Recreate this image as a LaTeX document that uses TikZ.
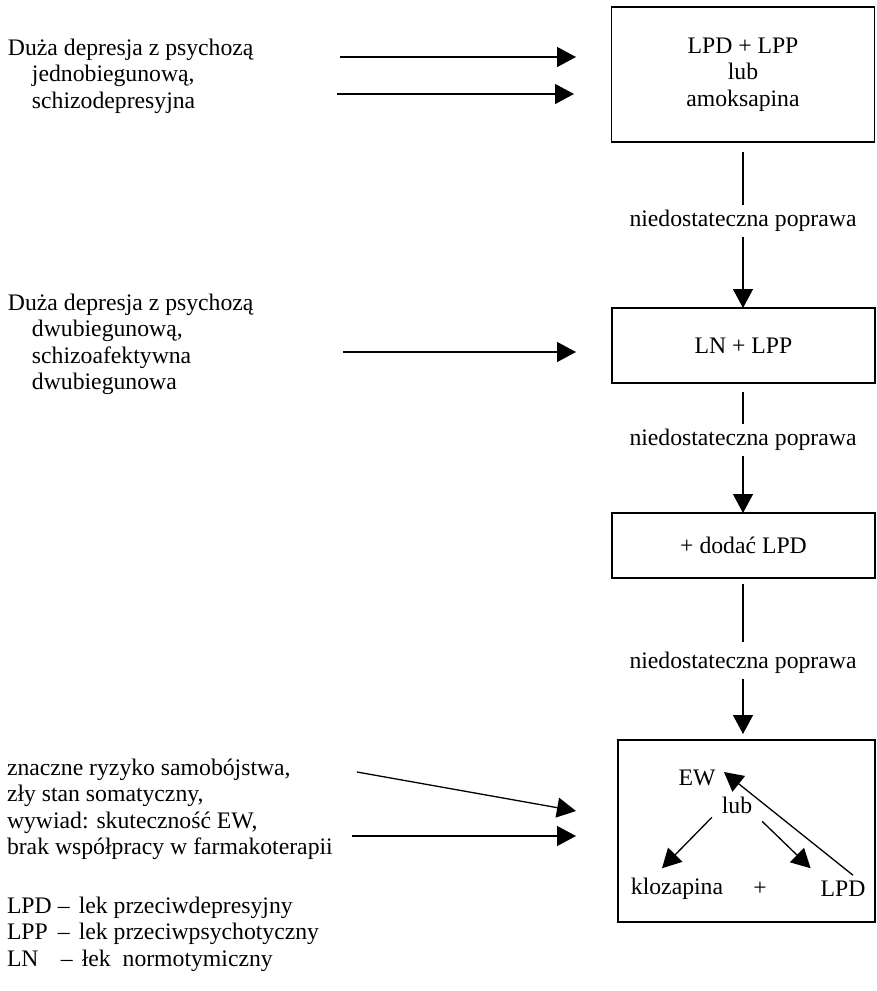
\documentclass[tikz,border=0pt]{standalone}
\usepackage{fontspec}
\setmainfont{Liberation Serif}
\usetikzlibrary{arrows.meta}
\begin{document}
\begin{tikzpicture}[x=1pt,y=-1pt,
  txt/.style={font=\fontsize{23.7}{26.3}\selectfont, inner sep=0pt, outer sep=0pt},
  box/.style={txt, draw, line width=1.3pt, align=center},
  para/.style={txt, anchor=north west, align=left},
  arr/.style={line width=1.3pt, -{Triangle[length=19pt,width=20pt]}},
  ln/.style={line width=1.2pt},
]
\useasboundingbox (0,0) rectangle (876,991);

% main boxes
\node[box, minimum width=263pt, minimum height=135pt] (b1) at (743,74.5) {LPD + LPP\\lub\\amoksapina};
\node[box, minimum width=263pt, minimum height=75pt] (b2) at (743.5,345.5) {LN + LPP};
\node[box, minimum width=263pt, minimum height=65pt] (b3) at (743.5,545.5) {+ dodać LPD};
\node[box, minimum width=257pt, minimum height=182pt] (b4) at (746.5,831) {};

% labels
\node[txt] (n1) at (743,221) {niedostateczna poprawa};
\node[txt] (n2) at (743,440) {niedostateczna poprawa};
\node[txt] (n3) at (743,663) {niedostateczna poprawa};

\draw[ln] ([yshift=-10pt]b1.south) -- ([yshift=5pt]n1.north);
\draw[arr] ([yshift=-5pt]n1.south) -- (b2.north -| n1.south);
\draw[ln] ([yshift=-9pt]b2.south -| n2.north) -- ([yshift=5pt]n2.north);
\draw[arr] ([yshift=-5pt]n2.south) -- (b3.north -| n2.south);
\draw[ln] ([yshift=-6pt]b3.south -| n3.north) -- ([yshift=10pt]n3.north);
\draw[arr] ([yshift=-5pt]n3.south) -- ([yshift=6pt]b4.north -| n3.south);

% left texts
\node[para] (t1) at (8,39) {Duża depresja z psychozą\\\hspace*{24pt}jednobiegunową,\\\hspace*{24pt}schizodepresyjna};
\node[para] (t2) at (8,294) {Duża depresja z psychozą\\\hspace*{24pt}dwubiegunową,\\\hspace*{24pt}schizoafektywna\\\hspace*{24pt}dwubiegunowa};
\node[para] (t3) at (7,759) {znaczne ryzyko samobójstwa,\\zły stan somatyczny,\\wywiad: skuteczność EW,\\brak współpracy w farmakoterapii};
\node[para] (t4) at (7,897) {\makebox[51pt][l]{LPD}–\hspace{9pt}lek przeciwdepresyjny\\\makebox[51pt][l]{LPP}–\hspace{9pt}lek przeciwpsychotyczny\\\makebox[54pt][l]{LN}–\hspace{9pt}łek\ \ normotymiczny};

% left arrows
\coordinate (s1) at (340,57);  \coordinate (e1) at (576,57);
\coordinate (s2) at (337,94);  \coordinate (e2) at (574,94);
\coordinate (s3) at (343,352); \coordinate (e3) at (576,352);
\coordinate (s4) at (357,772); \coordinate (e4) at (576,811);
\coordinate (s5) at (352,836); \coordinate (e5) at (576,836);
\draw[arr] (s1) -- (e1);
\draw[arr] (s2) -- (e2);
\draw[arr] (s3) -- (e3);
\draw[arr] (s4) -- (e4);
\draw[arr] (s5) -- (e5);

% inside last box
\node[txt] (ew) at (697,778) {EW};
\node[txt] (lub) at (737,805) {lub};
\node[txt] (kl) at (677,889) {klozapina};
\node[txt] (pl) at (760,889) {+};
\node[txt] (lpd) at (843,889) {LPD};

\draw[arr] ([xshift=-10pt,yshift=-4pt]lub.south west) -- ([xshift=-15pt,yshift=10pt]kl.north);
\draw[arr] ([xshift=10pt,yshift=-8pt]lub.south east) -- ([xshift=-10pt,yshift=13pt]lpd.north west);
\draw[arr] ([xshift=10pt,yshift=6pt]lpd.north) -- ([xshift=8.5pt,yshift=6pt]ew.east);
\end{tikzpicture}
\end{document}
